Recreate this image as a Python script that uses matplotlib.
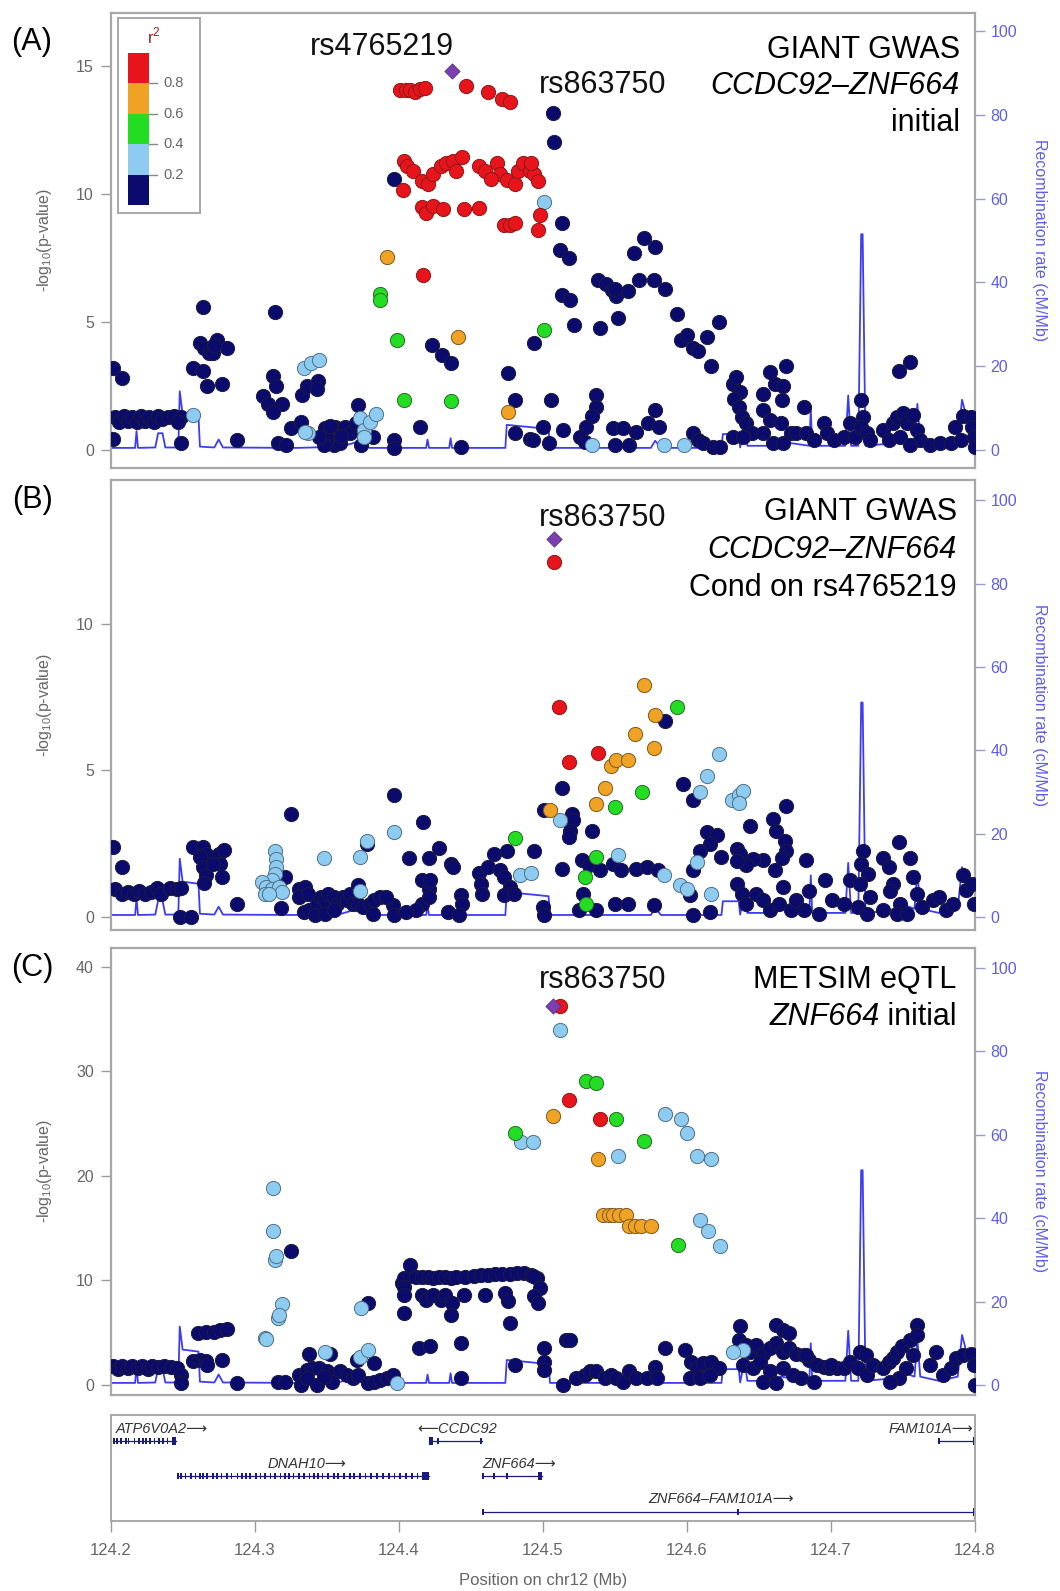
import matplotlib
matplotlib.use('Agg')
import matplotlib.pyplot as plt
from matplotlib.patches import Rectangle

plt.rcParams['font.family'] = ['Liberation Sans', 'DejaVu Sans']
plt.rcParams['mathtext.fontset'] = 'custom'
plt.rcParams['mathtext.rm'] = 'Liberation Sans'

# ---------------- data ----------------
# recombination rate (cM/Mb), same map for all three panels
RECOMB = [(124.200, 0.5), (124.217, 0.5), (124.218, 4.5), (124.219, 0.5), (124.231, 0.6),
          (124.233, 4.0), (124.236, 4.0), (124.238, 0.6), (124.247, 0.6), (124.248, 14.0),
          (124.250, 8.5), (124.261, 8.0), (124.262, 0.8), (124.272, 0.6), (124.275, 2.5),
          (124.278, 0.6), (124.330, 0.5), (124.360, 0.8), (124.370, 1.8), (124.380, 0.5),
          (124.419, 0.5), (124.420, 2.5), (124.421, 0.5), (124.435, 0.5), (124.436, 2.8),
          (124.437, 0.5), (124.474, 0.5), (124.475, 6.0), (124.490, 5.5), (124.504, 5.0),
          (124.505, 0.5), (124.575, 0.5), (124.578, 2.2), (124.582, 0.5), (124.624, 0.5),
          (124.625, 3.8), (124.636, 3.8), (124.637, 0.6), (124.640, 6.0), (124.642, 1.0),
          (124.660, 1.0), (124.665, 2.0), (124.685, 1.0), (124.686, 10.0), (124.687, 1.0),
          (124.710, 1.0), (124.712, 13.0), (124.714, 1.0), (124.719, 1.0), (124.721, 51.5),
          (124.722, 51.5), (124.724, 1.0), (124.740, 1.5), (124.750, 3.0), (124.758, 2.0),
          (124.760, 11.0), (124.762, 2.0), (124.775, 1.0), (124.788, 2.0), (124.791, 12.0),
          (124.794, 8.0), (124.798, 8.0), (124.800, 7.0)]

# panel A: GIANT GWAS initial  (position Mb, -log10 p)
A_NAVY = [(124.202, 3.2), (124.208, 2.8), (124.202, 0.45),
          (124.203, 1.3), (124.206, 1.1), (124.209, 1.35), (124.212, 1.15), (124.215, 1.3),
          (124.218, 1.1), (124.221, 1.35), (124.224, 1.15), (124.227, 1.3), (124.230, 1.1),
          (124.233, 1.35), (124.236, 1.2), (124.240, 1.3), (124.244, 1.35), (124.249, 1.3),
          (124.249, 0.26), (124.247, 1.1),
          (124.257, 3.2), (124.264, 5.6), (124.262, 4.2), (124.264, 3.1), (124.267, 2.5),
          (124.265, 4.0), (124.268, 3.8), (124.274, 4.3), (124.281, 4.0), (124.271, 3.8),
          (124.277, 2.6), (124.272, 4.1), (124.288, 0.4),
          (124.314, 5.4), (124.306, 2.1), (124.309, 1.8), (124.313, 2.9), (124.315, 2.5),
          (124.319, 1.8), (124.313, 1.5), (124.325, 0.85), (124.332, 1.1), (124.333, 2.15),
          (124.336, 2.5), (124.344, 2.7), (124.343, 2.4), (124.316, 0.26), (124.322, 0.2),
          (124.349, 0.85), (124.352, 0.65), (124.356, 0.9), (124.359, 0.78), (124.363, 0.9),
          (124.366, 0.65), (124.355, 0.2), (124.348, 0.2), (124.359, 0.26), (124.372, 1.75),
          (124.370, 1.05), (124.375, 0.78), (124.382, 0.52), (124.374, 0.2), (124.345, 0.5),
          (124.352, 0.95), (124.360, 0.55),
          (124.397, 0.4), (124.397, 0.1), (124.415, 0.9), (124.443, 0.13), (124.397, 10.6),
          (124.423, 4.1), (124.430, 3.7), (124.436, 3.4), (124.476, 3.0), (124.481, 1.95),
          (124.481, 0.65),
          (124.507, 13.15), (124.508, 12.05), (124.513, 8.85), (124.512, 7.8), (124.518, 7.5),
          (124.513, 6.05), (124.519, 5.85), (124.522, 4.9), (124.494, 4.2), (124.506, 1.95),
          (124.500, 0.9), (124.491, 0.45), (124.504, 0.26),
          (124.538, 6.65), (124.544, 6.5), (124.548, 6.25), (124.551, 6.0), (124.550, 6.3),
          (124.559, 6.2), (124.552, 5.15), (124.540, 4.75), (124.563, 7.7), (124.570, 8.3),
          (124.578, 7.95), (124.567, 6.65), (124.577, 6.65), (124.585, 6.3), (124.593, 5.3),
          (124.596, 4.3), (124.600, 4.5), (124.604, 4.0), (124.608, 3.85), (124.614, 4.4),
          (124.622, 5.0), (124.617, 3.3),
          (124.537, 2.15), (124.537, 1.7), (124.534, 1.35), (124.530, 0.9), (124.526, 0.5),
          (124.529, 0.33), (124.549, 0.85), (124.550, 0.2), (124.560, 0.2), (124.556, 0.85),
          (124.565, 0.7), (124.573, 1.05), (124.578, 1.55), (124.581, 0.9), (124.514, 0.8),
          (124.493, 0.39), (124.604, 0.65), (124.608, 0.4), (124.611, 0.26), (124.618, 0.13),
          (124.623, 0.13),
          (124.632, 2.6), (124.634, 2.85), (124.637, 2.26), (124.633, 2.0), (124.636, 1.7),
          (124.638, 1.3), (124.641, 1.05), (124.645, 0.65), (124.632, 0.52), (124.639, 0.52),
          (124.653, 2.2), (124.658, 3.05), (124.661, 2.6), (124.667, 2.5), (124.669, 3.3),
          (124.666, 1.95), (124.653, 1.56), (124.658, 1.17), (124.665, 1.05), (124.672, 0.65),
          (124.653, 0.65), (124.660, 0.26), (124.667, 0.26), (124.676, 0.65),
          (124.681, 1.7), (124.683, 0.65), (124.688, 0.39), (124.695, 1.05), (124.697, 0.65),
          (124.702, 0.39), (124.709, 0.52), (124.713, 1.05), (124.717, 0.52), (124.721, 1.95),
          (124.722, 1.3), (124.721, 0.91), (124.725, 0.65), (124.727, 0.39), (124.736, 0.78),
          (124.740, 0.39), (124.743, 1.05), (124.747, 3.1), (124.755, 3.45), (124.746, 1.3),
          (124.750, 1.43), (124.753, 1.05), (124.757, 1.37), (124.760, 0.78), (124.762, 0.39),
          (124.748, 0.52), (124.755, 0.2), (124.769, 0.2), (124.776, 0.26), (124.783, 0.26),
          (124.786, 0.9), (124.790, 0.39), (124.792, 1.35), (124.797, 1.3), (124.798, 0.91),
          (124.799, 0.52), (124.800, 0.13)]
A_LIGHT = [(124.257, 1.37), (124.334, 3.2), (124.339, 3.4), (124.345, 3.5), (124.337, 0.65),
           (124.335, 0.72), (124.373, 1.25), (124.376, 0.78), (124.380, 1.1), (124.384, 1.4),
           (124.376, 0.52), (124.501, 9.7), (124.534, 0.2), (124.584, 0.2), (124.598, 0.2)]
A_GREEN = [(124.387, 6.1), (124.387, 5.85), (124.399, 4.3), (124.404, 1.95), (124.436, 1.9),
           (124.501, 4.7)]
A_ORANGE = [(124.392, 7.55), (124.441, 4.4), (124.476, 1.5)]
A_RED = [(124.417, 6.85),
         (124.401, 14.05), (124.405, 14.05), (124.408, 14.05), (124.411, 14.0), (124.415, 14.1),
         (124.418, 14.15), (124.447, 14.2), (124.462, 14.0), (124.472, 13.7), (124.477, 13.6),
         (124.404, 11.3), (124.406, 11.1), (124.410, 10.9), (124.416, 10.5), (124.420, 10.4),
         (124.424, 10.8), (124.429, 11.1), (124.433, 11.2), (124.438, 11.3), (124.444, 11.45),
         (124.440, 10.9), (124.456, 11.1), (124.468, 11.2), (124.470, 10.8), (124.475, 10.55),
         (124.481, 10.4), (124.483, 10.9), (124.486, 11.2), (124.491, 10.9), (124.494, 10.8),
         (124.497, 10.5), (124.492, 11.2), (124.403, 10.15), (124.460, 10.9), (124.464, 10.6),
         (124.416, 9.5), (124.419, 9.25), (124.424, 9.55), (124.431, 9.4), (124.445, 9.4),
         (124.456, 9.45), (124.473, 8.8), (124.477, 8.8), (124.481, 8.85), (124.498, 9.2),
         (124.497, 8.6)]
A_INDEX = (124.437, 14.8)

# panel B: GIANT GWAS conditioned on rs4765219
B_NAVY = [(124.202, 2.4), (124.208, 1.7), (124.203, 0.97), (124.208, 0.8), (124.212, 0.85),
          (124.216, 0.8), (124.220, 0.9), (124.224, 0.8), (124.228, 0.85), (124.232, 1.0),
          (124.235, 0.8), (124.241, 1.0), (124.246, 0.97), (124.249, 1.0), (124.248, 0.0),
          (124.256, 0.0),
          (124.257, 2.4), (124.264, 2.4), (124.266, 2.16), (124.262, 2.05), (124.264, 1.7),
          (124.266, 1.42), (124.265, 1.15), (124.275, 2.15), (124.276, 1.82), (124.277, 1.36),
          (124.279, 2.3), (124.271, 1.82), (124.288, 0.45),
          (124.325, 3.5), (124.321, 1.36), (124.318, 0.3), (124.378, 2.5), (124.397, 4.15),
          (124.417, 3.25), (124.407, 2.0), (124.421, 2.0), (124.428, 2.35), (124.436, 1.8),
          (124.438, 1.7), (124.416, 1.25), (124.421, 0.97), (124.422, 1.25), (124.416, 0.45),
          (124.412, 0.23), (124.421, 0.68), (124.443, 0.74), (124.444, 0.45), (124.434, 0.17),
          (124.442, 0.06), (124.396, 0.4), (124.397, 0.06), (124.405, 0.17),
          (124.331, 0.97), (124.335, 1.02), (124.331, 0.68), (124.337, 0.8), (124.334, 0.17),
          (124.338, 0.23), (124.343, 0.45), (124.346, 0.68), (124.349, 0.57), (124.351, 0.8),
          (124.355, 0.68), (124.357, 0.45), (124.361, 0.68), (124.364, 0.57), (124.366, 0.8),
          (124.368, 0.45), (124.372, 1.08), (124.372, 0.45), (124.375, 0.34), (124.380, 0.45),
          (124.382, 0.11), (124.383, 0.57), (124.387, 0.68), (124.391, 0.68), (124.342, 0.06),
          (124.349, 0.11), (124.355, 0.23),
          (124.456, 1.5), (124.457, 1.14), (124.458, 0.8), (124.462, 1.7), (124.466, 2.15),
          (124.470, 1.6), (124.473, 1.36), (124.475, 2.27), (124.477, 1.02), (124.473, 0.74),
          (124.480, 0.8),
          (124.585, 6.7), (124.513, 4.4), (124.501, 3.65), (124.520, 3.5), (124.521, 3.3),
          (124.519, 2.95), (124.518, 2.73), (124.534, 2.95), (124.494, 2.27), (124.513, 1.65),
          (124.527, 1.93), (124.532, 1.76), (124.540, 1.6), (124.549, 1.8), (124.554, 1.6),
          (124.565, 1.65), (124.572, 1.7), (124.580, 1.6), (124.528, 0.8), (124.500, 0.34),
          (124.501, 0.06), (124.525, 0.23), (124.537, 0.23), (124.550, 0.45), (124.559, 0.45),
          (124.577, 0.4),
          (124.597, 4.55), (124.604, 4.0), (124.614, 2.9), (124.621, 2.8), (124.616, 2.5),
          (124.624, 2.05), (124.635, 2.33), (124.637, 2.16), (124.609, 2.27), (124.604, 1.6),
          (124.602, 0.74), (124.604, 0.06), (124.616, 0.17),
          (124.644, 3.1), (124.660, 3.35), (124.662, 2.95), (124.669, 3.8), (124.668, 2.6),
          (124.669, 2.27), (124.666, 2.0), (124.661, 1.6), (124.653, 1.93), (124.646, 1.99),
          (124.641, 1.76), (124.635, 1.9), (124.635, 1.14), (124.638, 0.8), (124.641, 0.45),
          (124.648, 0.8), (124.653, 0.57), (124.658, 0.23), (124.664, 0.45), (124.667, 1.02),
          (124.672, 0.23), (124.676, 0.57), (124.683, 1.93), (124.685, 0.9), (124.681, 0.23),
          (124.692, 0.11), (124.696, 1.25), (124.701, 0.57), (124.709, 0.45), (124.713, 1.25),
          (124.719, 0.34), (124.722, 2.27), (124.721, 1.82), (124.726, 1.48), (124.720, 1.14),
          (124.727, 0.68), (124.725, 0.11), (124.736, 2.0), (124.740, 1.7), (124.743, 1.14),
          (124.747, 2.55), (124.741, 0.9), (124.748, 0.45), (124.755, 2.0), (124.757, 1.36),
          (124.760, 0.8), (124.763, 0.34), (124.771, 0.57), (124.775, 0.68), (124.780, 0.23),
          (124.785, 0.45), (124.792, 1.42), (124.794, 0.91), (124.798, 1.14), (124.799, 0.45),
          (124.746, 0.11), (124.753, 0.11), (124.736, 0.23)]
B_LIGHT = [(124.314, 2.27), (124.315, 1.99), (124.315, 1.7), (124.314, 1.48), (124.312, 1.25),
           (124.305, 1.2), (124.308, 1.02), (124.312, 0.97), (124.317, 1.02), (124.307, 0.8),
           (124.319, 0.85), (124.310, 0.8), (124.348, 2.0), (124.378, 2.6), (124.373, 2.05),
           (124.373, 0.9), (124.397, 2.9), (124.484, 1.45),
           (124.512, 3.3), (124.552, 2.1), (124.584, 1.42), (124.492, 1.5), (124.614, 4.8),
           (124.622, 5.55), (124.609, 4.25), (124.607, 1.87), (124.595, 1.08), (124.600, 0.97),
           (124.617, 0.8), (124.631, 4.0), (124.636, 4.15), (124.639, 4.3), (124.636, 3.9)]
B_GREEN = [(124.481, 2.7), (124.593, 7.15), (124.569, 4.25), (124.550, 3.75), (124.537, 2.05),
           (124.529, 1.35), (124.530, 0.45)]
B_ORANGE = [(124.505, 3.65), (124.537, 3.85), (124.543, 4.4), (124.547, 5.15), (124.551, 5.35),
            (124.559, 5.35), (124.564, 6.25), (124.570, 7.9), (124.578, 6.9), (124.577, 5.75)]
B_RED = [(124.508, 12.1), (124.511, 7.15), (124.518, 5.3), (124.538, 5.6)]
B_INDEX = (124.508, 12.9)

# panel C: METSIM eQTL ZNF664 initial
C_NAVY = [(124.202, 1.8), (124.205, 1.5), (124.208, 1.8), (124.212, 1.6), (124.215, 1.85),
          (124.219, 1.6), (124.222, 1.8), (124.226, 1.55), (124.229, 1.8), (124.233, 1.7),
          (124.237, 1.8), (124.242, 1.75), (124.246, 1.6), (124.249, 1.0), (124.249, 0.15),
          (124.257, 2.25), (124.262, 2.4), (124.266, 2.25), (124.267, 1.9), (124.277, 2.4),
          (124.261, 4.95), (124.266, 5.1), (124.272, 5.1), (124.276, 5.25), (124.281, 5.4),
          (124.288, 0.15),
          (124.325, 12.8), (124.379, 7.8), (124.383, 2.1), (124.371, 2.4), (124.338, 3.0),
          (124.352, 3.0), (124.316, 0.3), (124.321, 0.3),
          (124.331, 1.0), (124.336, 1.45), (124.340, 1.6), (124.345, 1.6), (124.350, 1.3),
          (124.354, 1.0), (124.359, 1.3), (124.364, 1.0), (124.368, 0.65), (124.372, 1.0),
          (124.332, 0.0), (124.343, 0.0), (124.354, 0.3), (124.336, 0.65), (124.348, 0.8),
          (124.379, 0.15), (124.383, 0.3), (124.387, 0.5), (124.392, 0.65), (124.396, 0.95),
          (124.402, 9.75), (124.404, 10.2), (124.408, 10.4), (124.412, 10.3), (124.416, 10.3),
          (124.420, 10.3), (124.424, 10.2), (124.428, 10.3), (124.432, 10.3), (124.436, 10.2),
          (124.440, 10.3), (124.446, 10.3), (124.452, 10.4), (124.457, 10.5), (124.462, 10.5),
          (124.467, 10.6), (124.472, 10.6), (124.477, 10.6), (124.482, 10.7), (124.487, 10.7),
          (124.492, 10.5), (124.496, 10.2),
          (124.408, 11.5), (124.404, 9.4), (124.404, 8.6), (124.416, 8.6), (124.419, 8.1),
          (124.424, 8.6), (124.429, 8.1), (124.432, 8.6), (124.437, 7.8), (124.445, 8.6),
          (124.460, 8.6), (124.474, 8.8), (124.476, 8.0), (124.436, 6.7), (124.404, 6.9),
          (124.477, 5.9), (124.414, 3.5), (124.422, 3.7), (124.443, 4.0), (124.443, 0.65),
          (124.481, 1.9),
          (124.493, 10.4), (124.498, 9.3), (124.494, 8.5), (124.497, 7.8), (124.516, 4.3),
          (124.519, 4.3), (124.501, 3.5), (124.501, 2.2), (124.501, 1.4), (124.514, 0.0),
          (124.523, 0.65), (124.529, 1.0), (124.533, 1.3), (124.537, 1.3), (124.543, 0.65),
          (124.547, 1.0), (124.551, 0.65), (124.556, 0.3), (124.560, 1.3), (124.565, 0.65),
          (124.572, 0.65), (124.578, 1.75), (124.579, 0.65), (124.585, 3.5), (124.599, 3.35),
          (124.603, 2.2), (124.607, 1.6), (124.611, 2.1), (124.617, 2.2), (124.622, 1.6),
          (124.602, 0.65), (124.609, 0.65), (124.616, 1.0),
          (124.637, 5.6), (124.662, 5.75), (124.667, 5.3), (124.671, 4.95), (124.636, 4.3),
          (124.641, 3.8), (124.644, 3.2), (124.648, 3.8), (124.653, 3.0), (124.658, 3.5),
          (124.662, 4.0), (124.667, 3.2), (124.671, 3.5), (124.676, 3.0), (124.681, 2.9),
          (124.685, 2.4), (124.690, 1.9), (124.695, 1.75), (124.699, 1.6), (124.704, 1.6),
          (124.639, 1.9), (124.646, 1.6), (124.651, 2.2), (124.658, 1.3), (124.667, 1.6),
          (124.674, 1.0), (124.679, 0.65), (124.688, 0.3), (124.653, 0.3), (124.662, 0.15),
          (124.683, 2.9), (124.700, 1.9), (124.709, 1.6), (124.713, 2.2), (124.720, 3.2),
          (124.724, 2.9), (124.719, 1.6), (124.725, 1.0), (124.729, 1.9), (124.736, 1.6),
          (124.740, 2.2), (124.743, 2.6), (124.746, 3.2), (124.749, 3.7), (124.755, 4.3),
          (124.760, 5.75), (124.760, 4.8), (124.757, 2.9), (124.752, 1.6), (124.747, 0.65),
          (124.741, 0.3), (124.769, 1.9), (124.773, 3.2), (124.778, 1.0), (124.783, 1.6),
          (124.787, 2.55), (124.792, 2.9), (124.797, 3.0), (124.799, 1.9), (124.800, 0.0)]
C_LIGHT = [(124.313, 18.85), (124.313, 14.7), (124.314, 12.0), (124.315, 12.3), (124.319, 7.7),
           (124.316, 6.4), (124.317, 6.7), (124.307, 4.45), (124.308, 4.4), (124.349, 3.2),
           (124.374, 7.35), (124.373, 2.7), (124.379, 3.35), (124.399, 0.15), (124.485, 23.2),
           (124.512, 34.0), (124.493, 23.2), (124.552, 21.9), (124.585, 25.9), (124.596, 25.4),
           (124.600, 24.1), (124.607, 21.9), (124.617, 21.6), (124.609, 15.8), (124.615, 14.7),
           (124.623, 13.3), (124.639, 3.35), (124.632, 3.2)]
C_GREEN = [(124.481, 24.1), (124.530, 29.1), (124.537, 28.9), (124.551, 25.4), (124.570, 23.3),
           (124.594, 13.4)]
C_ORANGE = [(124.507, 25.7), (124.538, 21.6), (124.542, 16.3), (124.546, 16.3), (124.549, 16.3),
            (124.553, 16.3), (124.558, 16.3), (124.560, 15.2), (124.564, 15.2), (124.568, 15.2),
            (124.575, 15.2)]
C_RED = [(124.512, 36.25), (124.518, 27.3), (124.540, 25.4)]
C_INDEX = (124.507, 36.25)

# genes: label, row, start, end, small exons, final block (start, end), label x, alignment
GENES = [
    ('ATP6V0A2\u27f6', 0, 124.2015, 124.2455,
     [124.2025, 124.2045, 124.207, 124.2105, 124.2125, 124.2165, 124.2195, 124.2225,
      124.2245, 124.2275, 124.2305, 124.2335, 124.2365, 124.2395], (124.2425, 124.2455),
     124.2035, 'left'),
    ('\u27f5CCDC92', 0, 124.4213, 124.4578,
     [124.4275, 124.457], (124.421, 124.424), 124.4405, 'center'),
    ('FAM101A\u27f6', 0, 124.7743, 124.800,
     [124.775], (124.7985, 124.800), 124.799, 'right'),
    ('DNAH10\u27f6', 1, 124.2468, 124.4213,
     [124.247, 124.249, 124.252, 124.256, 124.259, 124.262, 124.264, 124.267, 124.271,
      124.274, 124.277, 124.281, 124.284, 124.288, 124.291, 124.294, 124.297, 124.301,
      124.304, 124.307, 124.311, 124.314, 124.318, 124.321, 124.324, 124.327, 124.331,
      124.334, 124.338, 124.341, 124.344, 124.347, 124.351, 124.355, 124.358, 124.362,
      124.366, 124.369, 124.373, 124.377, 124.381, 124.385, 124.389, 124.393, 124.397,
      124.401, 124.405, 124.409, 124.413], (124.416, 124.421), 124.3364, 'center'),
    ('ZNF664\u27f6', 1, 124.4578, 124.4994,
     [124.4585, 124.466, 124.475], (124.4965, 124.4995), 124.4835, 'center'),
    ('ZNF664\u2013FAM101A\u27f6', 2, 124.4578, 124.800,
     [124.4585, 124.6355], (124.7985, 124.800), 124.6236, 'center'),
]

X_TICKS = [124.2, 124.3, 124.4, 124.5, 124.6, 124.7, 124.8]
LD_LABELS = ['0.8', '0.6', '0.4', '0.2']

# ---------------- style ----------------
W, H = 1060, 1591
NAVY = '#0b0b6e'
LIGHT = '#8ecbf0'
GREEN = '#22dd22'
ORANGE = '#f0a224'
RED = '#e8141c'
PURPLE = '#7b3fb0'
REC_COLOR = '#3c3cf2'
FRAME = '#a8a8a8'
GREY_TXT = '#666666'
GENE_COL = '#1a1a80'


def box(x0, y0, x1, y1):
    # pixel box (from top-left) -> figure fraction rect
    return [x0 / W, 1 - y1 / H, (x1 - x0) / W, (y1 - y0) / H]


def draw_panel(ax, groups, index_pt, ylim, yticks, rec_lim):
    rax = ax.twinx()
    rx, ry = zip(*RECOMB)
    rax.plot(rx, ry, color=REC_COLOR, lw=1.3)
    rax.set_ylim(*rec_lim)
    rax.set_yticks([0, 20, 40, 60, 80, 100])
    rax.tick_params(axis='y', length=7, width=1, color='#9a9ad0', labelcolor='#5e5ee6',
                    labelsize=11.5, pad=4)
    for s in rax.spines.values():
        s.set_visible(False)

    ax.set_zorder(rax.get_zorder() + 1)
    ax.patch.set_visible(False)

    for pts, col, ec in groups:
        x, y = zip(*pts)
        ax.scatter(x, y, s=105, c=col, edgecolors=ec, linewidths=0.7, zorder=3)
    ax.scatter([index_pt[0]], [index_pt[1]], marker='D', s=60, c=PURPLE,
               edgecolors='#55308a', linewidths=0.6, zorder=5)

    ax.set_xlim(124.2, 124.8)
    ax.set_ylim(*ylim)
    ax.set_yticks(yticks)
    ax.tick_params(axis='y', length=7, width=1, color='#999999', labelcolor=GREY_TXT,
                   labelsize=11.5, pad=5)
    ax.tick_params(axis='x', bottom=False, labelbottom=False)
    for s in ax.spines.values():
        s.set_color(FRAME)
        s.set_linewidth(1.6)


def groups_for(navy, light, green, orange, red):
    return [(navy, NAVY, '#1c1c3c'), (light, LIGHT, '#4f6f88'), (green, GREEN, '#2a6a2a'),
            (orange, ORANGE, '#7a5a20'), (red, RED, '#8a1a1a')]


fig = plt.figure(figsize=(W / 100, H / 100), dpi=100)

panels = [
    (box(110.6, 13, 975, 468), groups_for(A_NAVY, A_LIGHT, A_GREEN, A_ORANGE, A_RED), A_INDEX,
     (-0.7, 17.07), [0, 5, 10, 15], (-4.3, 104.3)),
    (box(110.6, 480, 975, 930), groups_for(B_NAVY, B_LIGHT, B_GREEN, B_ORANGE, B_RED), B_INDEX,
     (-0.44, 14.9), [0, 5, 10], (-3.1, 104.9)),
    (box(110.6, 948, 975, 1395), groups_for(C_NAVY, C_LIGHT, C_GREEN, C_ORANGE, C_RED), C_INDEX,
     (-0.96, 41.8), [0, 10, 20, 30, 40], (-2.4, 104.8)),
]
axes = []
for rect, groups, idx, ylim, yt, rl in panels:
    ax = fig.add_axes(rect)
    draw_panel(ax, groups, idx, ylim, yt, rl)
    axes.append(ax)

axA, axB, axC = axes
big = 22

# SNP labels
axA.text(124.388, 15.75, 'rs4765219', fontsize=big, ha='center', va='center', color='#111111')
axA.text(124.5415, 14.25, 'rs863750', fontsize=big, ha='center', va='center', color='#111111')
axB.text(124.5415, 13.6, 'rs863750', fontsize=big, ha='center', va='center', color='#111111')
axC.text(124.5415, 38.7, 'rs863750', fontsize=big, ha='center', va='center', color='#111111')

# study titles
axA.text(0.9826, 0.919, 'GIANT GWAS', transform=axA.transAxes, fontsize=big, ha='right', va='center')
axA.text(0.9826, 0.840, 'CCDC92\u2013ZNF664', transform=axA.transAxes, fontsize=big, ha='right',
         va='center', style='italic')
axA.text(0.9826, 0.758, 'initial', transform=axA.transAxes, fontsize=big, ha='right', va='center')
axB.text(0.979, 0.929, 'GIANT GWAS', transform=axB.transAxes, fontsize=big, ha='right', va='center')
axB.text(0.979, 0.844, 'CCDC92\u2013ZNF664', transform=axB.transAxes, fontsize=big, ha='right',
         va='center', style='italic')
axB.text(0.979, 0.760, 'Cond on rs4765219', transform=axB.transAxes, fontsize=big, ha='right',
         va='center')
axC.text(0.979, 0.928, 'METSIM eQTL', transform=axC.transAxes, fontsize=big, ha='right', va='center')
t_init = axC.text(0.979, 0.846, ' initial', transform=axC.transAxes, fontsize=big, ha='right',
                  va='center')
renderer = fig.canvas.get_renderer()
bb = t_init.get_window_extent(renderer=renderer)
x_left = axC.transAxes.inverted().transform((bb.x0, bb.y0))[0]
axC.text(x_left, 0.846, 'ZNF664', transform=axC.transAxes, fontsize=big, ha='right',
         va='center', style='italic')

# panel letters and axis titles
for lab, ycen in [('(A)', 42), ('(B)', 500), ('(C)', 968)]:
    fig.text(32 / W, 1 - ycen / H, lab, fontsize=big, ha='center', va='center')
for ax in axes:
    pos = ax.get_position()
    yc = (pos.y0 + pos.y1) / 2
    fig.text(45 / W, yc, r'-log$_{10}$(p-value)', rotation=90, fontsize=11.5, color=GREY_TXT,
             ha='center', va='center')
    fig.text(1040 / W, yc, 'Recombination rate (cM/Mb)', rotation=270, fontsize=11.5,
             color='#5e5ee6', ha='center', va='center')

# r2 legend in panel A
lax = fig.add_axes(box(118, 18, 200, 213))
lax.set_xlim(118, 200)
lax.set_ylim(213, 18)
lax.set_xticks([])
lax.set_yticks([])
for s in lax.spines.values():
    s.set_color(FRAME)
    s.set_linewidth(1.4)
bar_cols = [RED, ORANGE, GREEN, LIGHT, NAVY]
top, bot = 53, 205
step = (bot - top) / len(bar_cols)
for i, col in enumerate(bar_cols):
    lax.add_patch(Rectangle((128, top + i * step), 21, step, facecolor=col, edgecolor='none'))
for i, lab in enumerate(LD_LABELS):
    yb = top + (i + 1) * step
    lax.plot([149, 157], [yb, yb], color='#888888', lw=1)
    lax.text(163, yb, lab, fontsize=10.5, color=GREY_TXT, va='center', ha='left')
lax.text(154, 36, r'r$^2$', fontsize=12, color='#9b2020', ha='center', va='center')

# gene track
gax = fig.add_axes(box(110.6, 1415, 975, 1521))
gax.set_xlim(124.2, 124.8)
gax.set_ylim(106, 0)
row_line = [26, 61, 97]
row_label = [14, 49, 84]
for name, row, g0, g1, exons, block, lx, ha in GENES:
    yl = row_line[row]
    gax.plot([g0, g1], [yl, yl], color=GENE_COL, lw=0.9)
    for ex in exons:
        gax.add_patch(Rectangle((ex - 0.0006, yl - 3), 0.0012, 6, facecolor=GENE_COL,
                                edgecolor='none'))
    gax.add_patch(Rectangle((block[0], yl - 4), block[1] - block[0], 8, facecolor=GENE_COL,
                            edgecolor='none'))
    gax.text(lx, row_label[row], name, fontsize=10.5, style='italic', color='#333333',
             ha=ha, va='center')
gax.set_yticks([])
gax.set_xticks(X_TICKS)
gax.set_xticklabels([f'{t:.1f}' for t in X_TICKS])
gax.tick_params(axis='x', length=8, width=1, color='#999999', labelcolor=GREY_TXT,
                labelsize=12, pad=8)
for s in gax.spines.values():
    s.set_color(FRAME)
    s.set_linewidth(1.4)
fig.text(0.5 * (110.6 + 975) / W, 1 - 1580 / H, 'Position on chr12 (Mb)', fontsize=12,
         color=GREY_TXT, ha='center', va='center')

fig.savefig('out.png', dpi=100)
